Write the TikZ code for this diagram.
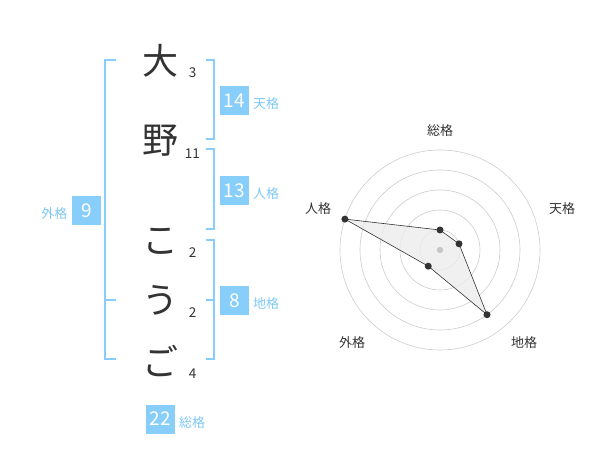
\documentclass[tikz,border=0pt]{standalone}
\usepackage{fontspec}
\setmainfont{Noto Sans CJK JP}
\usetikzlibrary{calc}
\definecolor{sky}{RGB}{135,206,250}
\definecolor{skytxt}{RGB}{125,200,245}
\definecolor{ink}{RGB}{51,51,51}
\begin{document}
\begin{tikzpicture}[x=1pt,y=-1pt,
  kanji/.style={font=\fontsize{36}{36}\selectfont, text=ink, inner sep=0},
  strokes/.style={font=\fontsize{13.5}{13.5}\selectfont, text=ink, inner sep=0},
  numbox/.style={fill=sky, text=white, minimum size=29pt, inner sep=0, font=\fontsize{19}{19}\selectfont},
  kaku/.style={font=\fontsize{13}{13}\selectfont, text=skytxt, inner sep=0},
  bracket/.style={draw=sky, line width=2pt},
  ring/.style={draw=gray!40, line width=0.6pt},
  axlabel/.style={font=\fontsize{13}{13}\selectfont, text=ink, inner sep=0},
  dot/.style={circle, fill=ink, minimum size=7pt, inner sep=0}]
\useasboundingbox (0,0) rectangle (600,470);

% name characters
\node[kanji] (c1) at (160,61) {大};
\node[kanji] (c2) at (160,141) {野};
\node[kanji] (c3) at (160,241) {こ};
\node[kanji] (c4) at (160,300) {う};
\node[kanji] (c5) at (160,361) {ご};
% stroke counts
\node[strokes] (s1) at (192.7,73) {3};
\node[strokes] (s2) at (192.3,153.5) {11};
\node[strokes] (s3) at (192.7,253) {2};
\node[strokes] (s4) at (192.7,313) {2};
\node[strokes] (s5) at (192.7,373.5) {4};

% brackets
\draw[bracket] (116,60) -- (105,60) -- (105,359.3) -- (116,359.3);
\draw[bracket] (105,300) -- (116,300);
\draw[bracket] (205.7,60) -- (214.3,60) -- (214.3,139.3) -- (205.7,139.3);
\draw[bracket] (205.7,149.3) -- (214.3,149.3) -- (214.3,229.3) -- (205.7,229.3);
\draw[bracket] (205.7,240) -- (214.3,240) -- (214.3,359.3) -- (205.7,359.3);
\draw[bracket] (214.3,300) -- (205.7,300);

% boxes and labels
\node[numbox] (ten) at (234.5,100.5) {14};
\node[kaku, anchor=west] (tenl) at (253,103.5) {天格};
\node[numbox] (jin) at (234.5,190.5) {13};
\node[kaku, anchor=west] (jinl) at (253,193.5) {人格};
\node[numbox] (chi) at (234.5,300.5) {8};
\node[kaku, anchor=west] (chil) at (253,303.5) {地格};
\node[numbox] (gai) at (86.5,210.5) {9};
\node[kaku, anchor=east] (gail) at (67.5,213.5) {外格};
\node[numbox] (sou) at (160.5,419) {22};
\node[kaku, anchor=west] (soul) at (179,422.5) {総格};

% radar chart
\coordinate (o) at (440,250);
\foreach \r in {20,40,60,80,100} \draw[ring] (o) circle (\r);
\coordinate (pS) at ($(o)+(-90:20)$);
\coordinate (pT) at ($(o)+(-18:20)$);
\coordinate (pC) at ($(o)+(54:80)$);
\coordinate (pG) at ($(o)+(126:20)$);
\coordinate (pJ) at ($(o)+(198:100)$);
\draw[fill=gray!15, fill opacity=0.8, draw=ink, line width=0.6pt] (pS) -- (pT) -- (pC) -- (pG) -- (pJ) -- cycle;
\fill[gray!45] (o) circle (3.2);
\foreach \p in {pS,pT,pC,pG,pJ} \node[dot] at (\p) {};
\node[axlabel] (lS) at (440,130.5) {総格};
\node[axlabel] (lT) at (562,208.5) {天格};
\node[axlabel] (lJ) at (318,208.5) {人格};
\node[axlabel] (lG) at (352,342.5) {外格};
\node[axlabel] (lC) at (524,342.5) {地格};
\end{tikzpicture}
\end{document}
